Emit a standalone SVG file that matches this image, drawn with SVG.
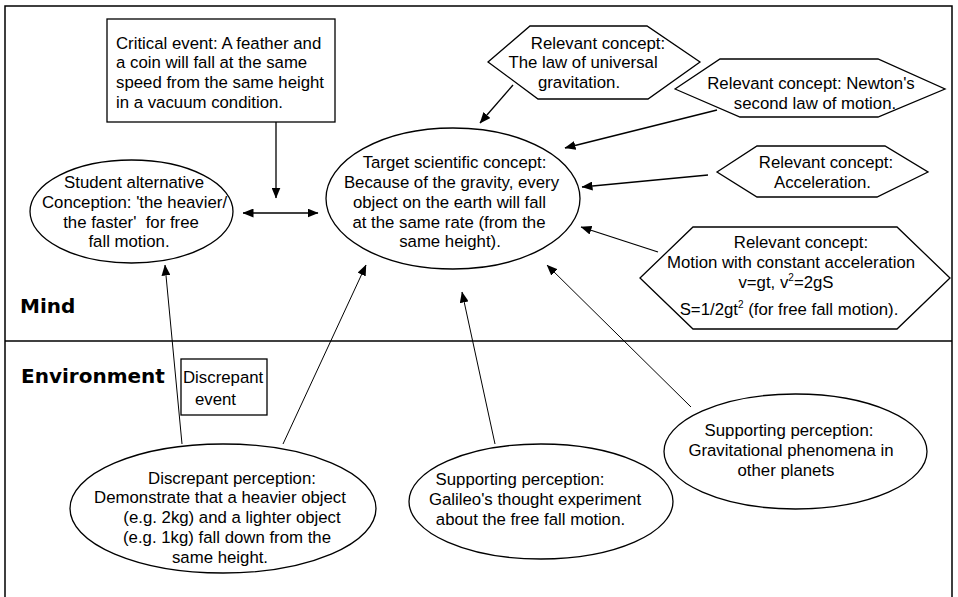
<svg xmlns="http://www.w3.org/2000/svg" width="958" height="597" viewBox="0 0 958 597">
  <defs>
    <marker id="arrow" markerUnits="userSpaceOnUse" markerWidth="11" markerHeight="9" refX="10.5" refY="4.5" orient="auto-start-reverse">
      <path d="M0,0 L11,4.5 L0,9 z" fill="#000"/>
    </marker>
  </defs>
  <style>
    .shape { fill: #fff; stroke: #000; stroke-width: 1.3; }
    .frame { fill: none; stroke: #000; stroke-width: 1.5; }
    .t { font-family: "Liberation Sans", Arial, sans-serif; font-size: 16.8px; fill: #000; }
    .c { text-anchor: middle; }
    .zone { font-family: "DejaVu Sans", sans-serif; font-weight: bold; font-size: 20px; fill: #000; }
    .link { stroke: #000; stroke-width: 1.3; fill: none; marker-end: url(#arrow); }
    .thin { stroke: #000; stroke-width: 1; fill: none; marker-end: url(#arrow); }
  </style>

  <rect width="958" height="597" fill="#fff"/>

  <!-- outer frame and divider between the two zones -->
  <g id="frame">
    <path class="frame" d="M5,597 V6 H952 V597"/>
    <line class="frame" x1="5" y1="341" x2="952" y2="341"/>
    <text class="zone" x="20" y="313">Mind</text>
    <text class="zone" x="21" y="383">Environment</text>
  </g>

  <!-- connectors -->
  <g id="connectors">
    <line class="link" x1="276" y1="122" x2="276" y2="198"/>
    <line class="link" x1="243" y1="213" x2="318" y2="213" marker-start="url(#arrow)"/>
    <line class="link" x1="513" y1="85" x2="480" y2="123"/>
    <line class="link" x1="717" y1="110" x2="565" y2="148"/>
    <line class="link" x1="708" y1="175" x2="582" y2="187"/>
    <line class="link" x1="658" y1="252" x2="581" y2="227"/>
    <line class="thin" x1="691" y1="407" x2="547" y2="265"/>
    <line class="thin" x1="495" y1="444" x2="462" y2="292"/>
    <line class="thin" x1="283" y1="444" x2="366" y2="265"/>
    <line class="thin" x1="182" y1="444" x2="165" y2="265"/>
  </g>

  <g id="critical-event">
    <rect class="shape" x="107" y="19" width="228" height="103"/>
    <text class="t" x="116" y="49">Critical event: A feather and</text>
    <text class="t" x="116" y="68">a coin will fall at the same</text>
    <text class="t" x="116" y="88">speed from the same height</text>
    <text class="t" x="116" y="108">in a vacuum condition.</text>
  </g>

  <g id="student-conception">
    <ellipse class="shape" cx="131.5" cy="211.5" rx="101.5" ry="51.5"/>
    <text class="t c" x="134" y="188">Student alternative</text>
    <text class="t c" x="134.5" y="208">Conception: 'the heavier/</text>
    <text class="t c" x="131" y="228">the faster'&#160; for free</text>
    <text class="t c" x="129" y="247">fall motion.</text>
  </g>

  <g id="target-concept">
    <ellipse class="shape" cx="453" cy="198.5" rx="127" ry="70.5"/>
    <text class="t c" x="454.5" y="168">Target scientific concept:</text>
    <text class="t c" x="451.5" y="188">Because of the gravity, every</text>
    <text class="t c" x="449.5" y="208">object on the earth will fall</text>
    <text class="t c" x="449" y="228">at the same rate (from the</text>
    <text class="t c" x="450" y="247">same height).</text>
  </g>

  <g id="concept-gravitation">
    <polygon class="shape" points="488,62 530,26 647,26 700,62 648,99 538,99"/>
    <text class="t c" x="598" y="49">Relevant concept:</text>
    <text class="t c" x="583" y="68">The law of universal</text>
    <text class="t c" x="579" y="88">gravitation.</text>
  </g>

  <g id="concept-newton">
    <polygon class="shape" points="675,89 720,59 878,59 945,89 878,117 740,117"/>
    <text class="t c" x="811" y="89">Relevant concept: Newton's</text>
    <text class="t c" x="815" y="109">second law of motion.</text>
  </g>

  <g id="concept-acceleration">
    <polygon class="shape" points="717,172 757,146 885,146 928,172 877,197 757,197"/>
    <text class="t c" x="826" y="168">Relevant concept:</text>
    <text class="t c" x="822.5" y="188">Acceleration.</text>
  </g>

  <g id="concept-motion">
    <polygon class="shape" points="640,278 693,227 897,227 950,278 897,329 693,329"/>
    <text class="t c" x="801" y="248">Relevant concept:</text>
    <text class="t c" x="791" y="268">Motion with constant acceleration</text>
    <text class="t c" x="786" y="288">v=gt, v<tspan font-size="10" dy="-7">2</tspan><tspan dy="7">=2gS</tspan></text>
    <text class="t c" x="789" y="315">S=1/2gt<tspan font-size="10" dy="-7">2</tspan><tspan dy="7"> (for free fall motion).</tspan></text>
  </g>

  <g id="discrepant-event">
    <rect class="shape" x="181" y="359" width="86" height="56"/>
    <text class="t" x="183" y="383">Discrepant</text>
    <text class="t c" x="215.5" y="405">event</text>
  </g>

  <g id="discrepant-perception">
    <ellipse class="shape" cx="223" cy="508.5" rx="153" ry="64.5"/>
    <text class="t c" x="232" y="484">Discrepant perception:</text>
    <text class="t c" x="220" y="503">Demonstrate that a heavier object</text>
    <text class="t c" x="232" y="523">(e.g. 2kg) and a lighter object</text>
    <text class="t c" x="227" y="543">(e.g. 1kg) fall down from the</text>
    <text class="t c" x="220" y="563">same height.</text>
  </g>

  <g id="supporting-galileo">
    <ellipse class="shape" cx="541" cy="501.5" rx="132" ry="57.5"/>
    <text class="t c" x="520" y="485">Supporting perception:</text>
    <text class="t c" x="535" y="505">Galileo's thought experiment</text>
    <text class="t c" x="530.5" y="525">about the free fall motion.</text>
  </g>

  <g id="supporting-planets">
    <ellipse class="shape" cx="795.5" cy="451.5" rx="131.5" ry="57.5"/>
    <text class="t c" x="789" y="436">Supporting perception:</text>
    <text class="t c" x="791" y="456">Gravitational phenomena in</text>
    <text class="t c" x="786" y="476">other planets</text>
  </g>
</svg>
